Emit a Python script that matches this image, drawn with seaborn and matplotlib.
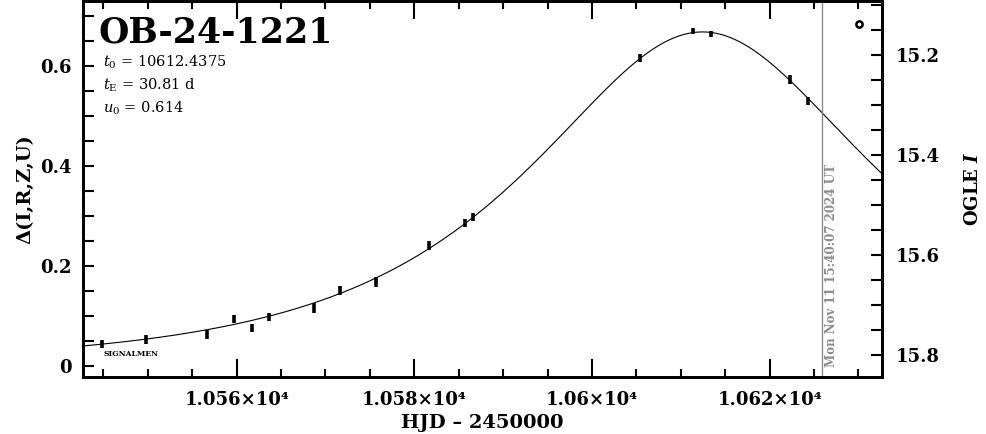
import matplotlib
matplotlib.use("Agg")
import matplotlib.pyplot as plt
import numpy as np
import pandas as pd
import seaborn as sns
from matplotlib.ticker import MultipleLocator, FuncFormatter

# event parameters (as printed on the chart)
event = "OB-24-1221"
t0 = 10612.4375
tE = 30.81
u0 = 0.614
mag_base = 15.822  # OGLE I at Delta = 0

# photometry
hjd = [10544.87, 10549.79, 10556.69, 10559.73, 10561.76, 10563.64, 10568.74,
       10571.67, 10575.69, 10581.60, 10585.71, 10586.64, 10605.41, 10611.42,
       10613.41, 10622.30, 10624.36]
delta = [0.045, 0.053, 0.063, 0.095, 0.077, 0.099, 0.117, 0.152, 0.169,
         0.242, 0.287, 0.299, 0.617, 0.670, 0.664, 0.574, 0.530]
err = [0.008, 0.009, 0.009, 0.008, 0.008, 0.008, 0.010, 0.009, 0.010,
       0.009, 0.008, 0.008, 0.008, 0.006, 0.006, 0.009, 0.008]
other_hjd = [10630.1]
other_delta = [0.685]

now_hjd = 10625.9
now_text = "Mon Nov 11 15:40:07 2024 UT"

xmin, xmax = 10542.70, 10632.65
ymin, ymax = -0.022, 0.730

# Paczynski model from the fitted parameters
t = np.linspace(xmin, xmax, 600)
u = np.sqrt(u0 ** 2 + ((t - t0) / tE) ** 2)
amp = (u ** 2 + 2) / (u * np.sqrt(u ** 2 + 4))
model = pd.DataFrame({"t": t, "d": 2.5 * np.log10(amp)})

sns.set_style("ticks")
plt.rcParams["font.family"] = ["DejaVu Serif"]
plt.rcParams["mathtext.fontset"] = "dejavuserif"
for key in ["text.color", "axes.labelcolor", "xtick.color", "ytick.color",
            "axes.edgecolor"]:
    plt.rcParams[key] = "black"

fig = plt.figure(figsize=(9.86, 4.34), dpi=100)
ax = fig.add_axes([83 / 986, 57 / 434, 799 / 986, 376 / 434])

sns.lineplot(data=model, x="t", y="d", ax=ax, color="black", lw=0.8)
ax.errorbar(hjd, delta, yerr=err, fmt="none", ecolor="black", elinewidth=2.6, capsize=0)
ax.plot(other_hjd, other_delta, "o", ms=4.5, mfc="white", mec="black", mew=1.8)

ax.axvline(now_hjd, color="#8c8c8c", lw=1)
ax.text(now_hjd + 1.1, -0.002, now_text, rotation=90, color="#8c8c8c",
        fontsize=8.6, fontweight="bold", ha="center", va="bottom")

ax.set_xlim(xmin, xmax)
ax.set_ylim(ymin, ymax)
ax.xaxis.set_major_locator(MultipleLocator(20))
ax.xaxis.set_minor_locator(MultipleLocator(5))
ax.yaxis.set_major_locator(MultipleLocator(0.2))
ax.yaxis.set_minor_locator(MultipleLocator(0.05))
ax.xaxis.set_major_formatter(FuncFormatter(
    lambda v, p: ("%g" % (v / 1e4)) + "×10⁴"))
ax.yaxis.set_major_formatter(FuncFormatter(lambda v, p: "%g" % round(v, 2)))
ax.tick_params(axis="x", which="both", direction="in", top=True, bottom=True,
               labelsize=13, pad=10)
ax.tick_params(axis="x", which="major", length=13, width=1.5)
ax.tick_params(axis="x", which="minor", length=6, width=1.5)
ax.tick_params(axis="y", which="both", direction="in", left=True, right=False,
               length=8, width=1.5, labelsize=13, pad=8)
for lab in ax.get_xticklabels() + ax.get_yticklabels():
    lab.set_fontweight("bold")
for s in ax.spines.values():
    s.set_linewidth(2)
    s.set_visible(True)

ax.set_xlabel("HJD – 2450000", fontsize=14, fontweight="bold", labelpad=4)
ax.set_ylabel("Δ(I,R,Z,U)", fontsize=14, fontweight="bold", labelpad=4)

# right axis: OGLE I magnitude
ax2 = ax.twinx()
ax2.set_ylim(mag_base - ymin, mag_base - ymax)
ax2.yaxis.set_major_locator(MultipleLocator(0.2))
ax2.yaxis.set_minor_locator(MultipleLocator(0.05))
ax2.tick_params(axis="y", which="both", direction="in", length=8, width=1.5,
                labelsize=13, pad=10)
for lab in ax2.get_yticklabels():
    lab.set_fontweight("bold")
ax2.set_ylabel(r"OGLE $\boldsymbol{I}$", fontsize=13, fontweight="bold", labelpad=17)
for s in ax2.spines.values():
    s.set_linewidth(2)

ax.text(10544.4, 0.667, event, fontsize=25, fontweight="bold", va="center")
ax.text(10545.0, 0.607, r"$t_0$ = 10612.4375", fontsize=10.5, va="center")
ax.text(10545.0, 0.561, r"$t_{\rm E}$ = 30.81 d", fontsize=10.5, va="center")
ax.text(10545.0, 0.515, r"$u_0$ = 0.614", fontsize=10.5, va="center")
ax.text(10545.0, 0.025, "SIGNALMEN", fontsize=5.5, fontweight="bold", va="center")

fig.savefig("out.png", dpi=100)
